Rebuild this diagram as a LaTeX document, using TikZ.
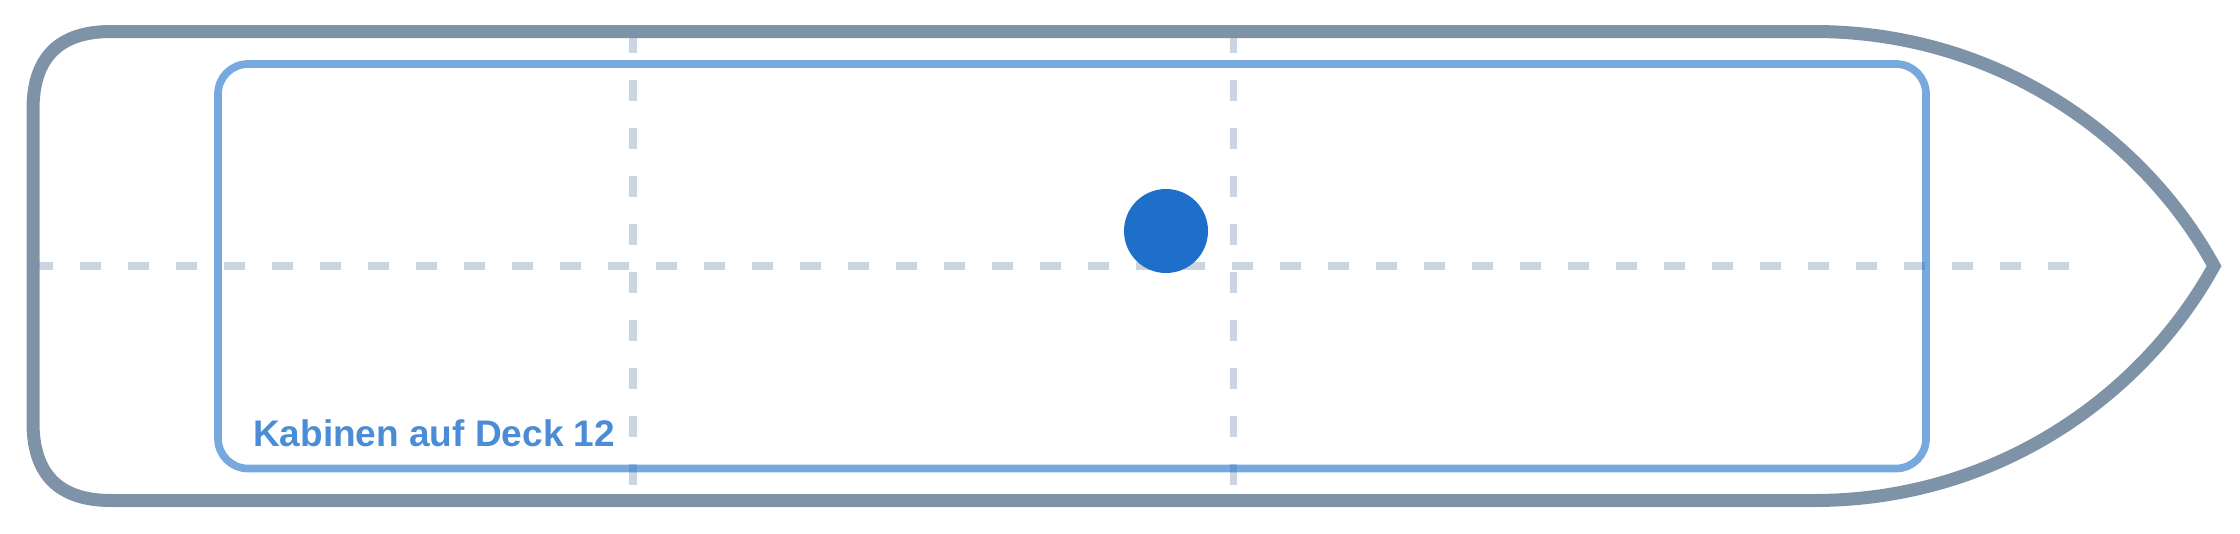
\documentclass[tikz,border=0pt]{standalone}
\usepackage{fontspec}
\setmainfont{Liberation Sans}
\definecolor{hullc}{HTML}{7F93A8}
\definecolor{deckc}{HTML}{1D6FCA}
\definecolor{gridc}{HTML}{CBD5E1}
\tikzset{
  hull/.style={draw=hullc, line width=13pt, line join=miter},
  deckbox/.style={draw=deckc, draw opacity=0.6, line width=7.7pt, rounded corners=30pt},
  gridline/.style={draw=gridc, line width=7.7pt, dash pattern=on 21pt off 27pt},
  marker/.style={circle, fill=deckc, minimum size=84pt, inner sep=0pt},
  decklabel/.style={anchor=base west, inner sep=0pt, text=deckc, text opacity=0.8,
    font=\fontsize{37}{44}\selectfont\bfseries}
}
\begin{document}
\begin{tikzpicture}[x=1pt,y=-1pt]
\useasboundingbox (0,0) rectangle (2240,533);
% grid lines
\coordinate (v1t) at (633,31.5);
\coordinate (v1b) at (633,500.5);
\coordinate (v2t) at (1233.5,31.5);
\coordinate (v2b) at (1233.5,500.5);
\coordinate (hl) at (32,266);
\coordinate (hr) at (2070,266);
\draw[gridline] (hl) -- (hr);
\draw[gridline] (v1t) -- (v1b);
\draw[gridline] (v2t) -- (v2b);
% deck outline
\draw[deckbox] (218,64) rectangle (1926,468.5);
% hull
\coordinate (bow) at (2214,266);
\draw[hull] (1814,31.5) -- (111,31.5)
  .. controls (59,31.5) and (33,57.5) .. (33,109.5) -- (33,422.5)
  .. controls (33,474.5) and (59,500.5) .. (111,500.5) -- (1814,500.5)
  .. controls (2000,500.5) and (2145,392) .. (bow)
  .. controls (2145,140) and (2000,31.5) .. (1814,31.5) -- cycle;
% marker
\node[marker] (dot) at (1166,231) {};
% label
\node[decklabel] (lbl) at (253,446.7) {Kabinen auf Deck 12};
\end{tikzpicture}
\end{document}
